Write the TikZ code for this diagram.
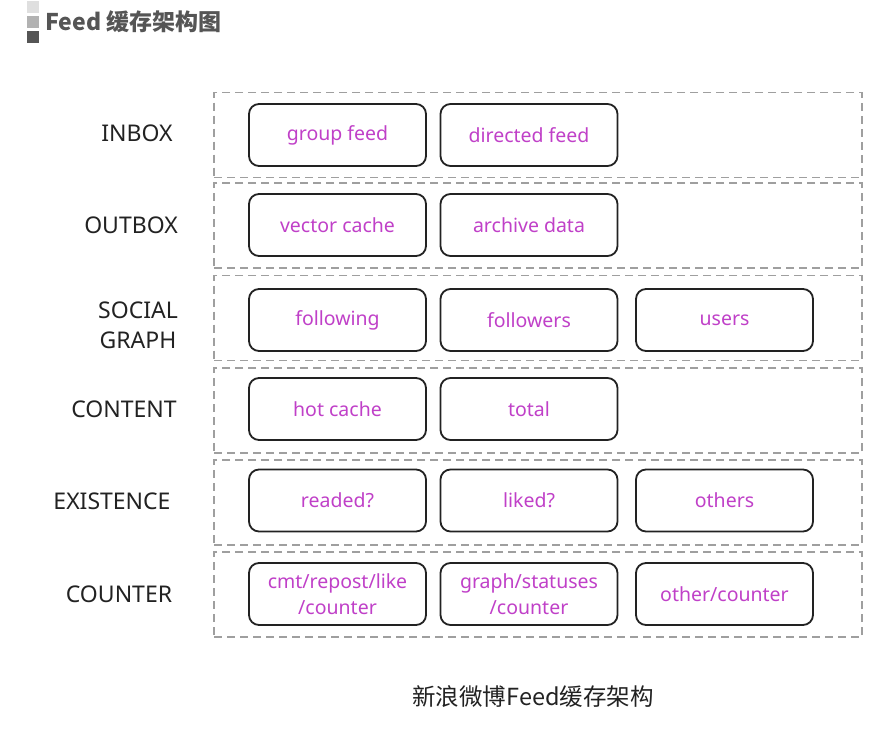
\documentclass[tikz,border=0pt]{standalone}
\usepackage{fontspec}
\setmainfont{Noto Sans}
\newfontfamily\cjkfont{Noto Sans CJK SC}
\usepackage{xcolor}
\usepackage{tikz}
\usetikzlibrary{positioning}
\definecolor{feedpink}{RGB}{192,64,200}
\definecolor{feedink}{RGB}{34,34,34}
\definecolor{feedgray}{RGB}{85,85,85}
\tikzset{
  layerbox/.style={
    draw=gray!75, line width=1.4pt, dash pattern=on 8pt off 5pt,
    minimum width=648pt, minimum height=85pt
  },
  cachebox/.style={
    draw=feedink, line width=1.8pt, rounded corners=10pt, align=center,
    minimum width=177pt, minimum height=62pt,
    font=\fontsize{19.5}{26}\selectfont, text=feedpink
  },
  layerlabel/.style={
    align=center, text=feedink, font=\fontsize{23}{30}\selectfont
  },
  tagsquare/.style={draw=none, minimum size=12pt, inner sep=0pt},
}
\begin{document}
\begin{tikzpicture}[x=1pt, y=-1pt]
  \useasboundingbox[fill=white] (0,0) rectangle (891,731);

  % Title
  \node[tagsquare, fill=gray!25] (tagA) at (33,7) {};
  \node[tagsquare, fill=gray!60] (tagB) at (33,22) {};
  \node[tagsquare, fill=feedgray] (tagC) at (33,37) {};
  \node[anchor=west, text=feedgray, font=\fontsize{23}{26}\selectfont\cjkfont\bfseries]
    (title) at (42,22) {Feed 缓存架构图};

  % Layers
  \node[layerbox] (inbox) at (538,135) {};
  \node[layerbox] (outbox) at (538,225.5) {};
  \node[layerbox] (social) at (538,318) {};
  \node[layerbox] (content) at (538,410.5) {};
  \node[layerbox] (exist) at (538,502.5) {};
  \node[layerbox] (counter) at (538,594.5) {};

  % Layer names
  \node[layerlabel] (inboxname) at (137,133) {INBOX};
  \node[layerlabel] (outboxname) at (131,225) {OUTBOX};
  \node[layerlabel] (socialname) at (138,325) {SOCIAL\\GRAPH};
  \node[layerlabel] (contentname) at (124,409) {CONTENT};
  \node[layerlabel] (existname) at (112,501) {EXISTENCE};
  \node[layerlabel] (countername) at (119,594) {COUNTER};

  % Caches
  \node[cachebox] (groupfeed) at (337.5,135) {group feed};
  \node[cachebox] (directfeed) at (529,135) {directed feed};

  \node[cachebox] (vector) at (337.5,225) {vector cache};
  \node[cachebox] (archive) at (529,225) {archive data};

  \node[cachebox] (following) at (337.5,320) {following};
  \node[cachebox] (followers) at (529,320) {followers};
  \node[cachebox] (users) at (724.5,320) {users};

  \node[cachebox] (hot) at (337.5,409) {hot cache};
  \node[cachebox] (total) at (529,409) {total};

  \node[cachebox] (readed) at (337.5,500.5) {readed?};
  \node[cachebox] (liked) at (529,500.5) {liked?};
  \node[cachebox] (others) at (724.5,500.5) {others};

  \node[cachebox] (cmtcount) at (337.5,594) {cmt/repost/like\\/counter};
  \node[cachebox] (graphcount) at (529,594) {graph/statuses\\/counter};
  \node[cachebox] (othercount) at (724.5,594) {other/counter};

  % Caption
  \node[text=feedink, font=\fontsize{23.5}{26}\selectfont\cjkfont] (caption) at (533,697)
    {新浪微博Feed缓存架构};
\end{tikzpicture}
\end{document}
